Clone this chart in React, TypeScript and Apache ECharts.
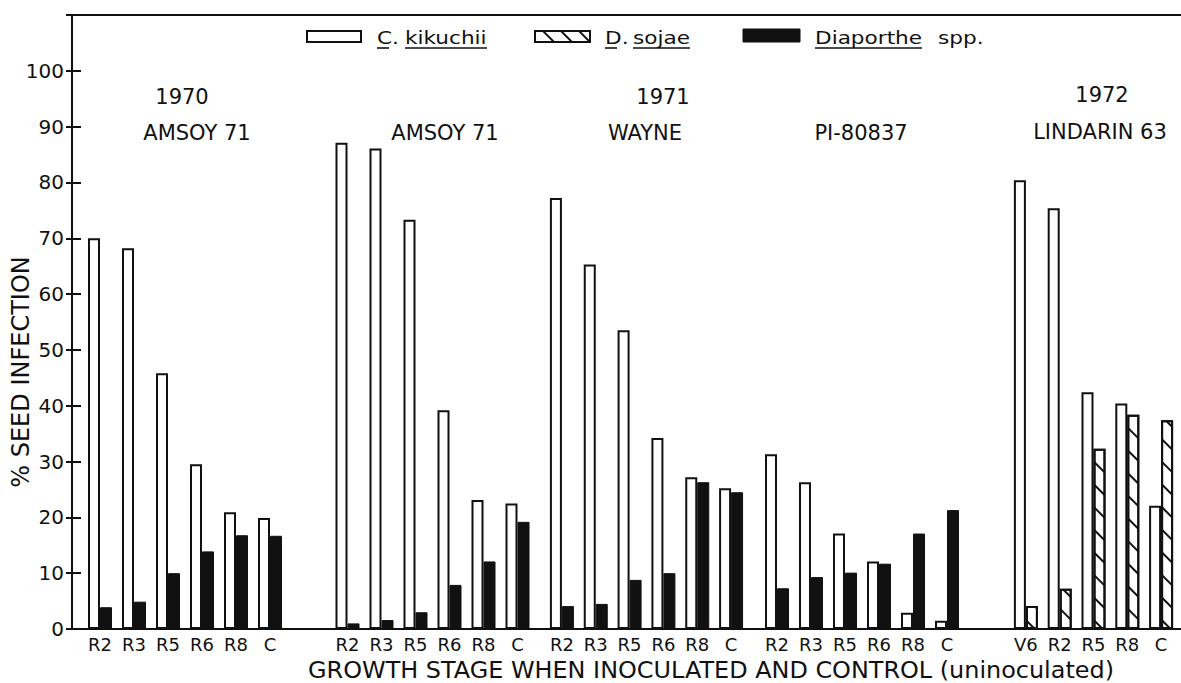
import React, { useEffect, useRef } from "react";
import * as echarts from "echarts";

// ---- data ----
const stagesR = ["R2", "R3", "R5", "R6", "R8", "C"];
const stagesLindarin = ["V6", "R2", "R5", "R8", "C"];

const kikuchiiAmsoy1970 = [70, 68.2, 45.8, 29.5, 20.9, 19.9];
const diaportheAmsoy1970 = [3.9, 4.9, 10, 13.9, 16.8, 16.7];

const kikuchiiAmsoy1971 = [87.1, 86.1, 73.3, 39.2, 23.1, 22.5];
const diaportheAmsoy1971 = [1.0, 1.6, 3.0, 7.9, 12.1, 19.2];

const kikuchiiWayne = [77.2, 65.3, 53.5, 34.2, 27.2, 25.2];
const diaportheWayne = [4.1, 4.5, 8.8, 10.0, 26.3, 24.5];

const kikuchiiPI80837 = [31.3, 26.3, 17.1, 12.1, 2.9, 1.5];
const diaporthePI80837 = [7.3, 9.3, 10.1, 11.7, 17.1, 21.3];

const kikuchiiLindarin = [80.4, 75.4, 42.4, 40.4, 22.1];
const sojaeLindarin = [4.1, 7.2, 32.3, 38.4, 37.4];

const yTicks = [0, 110, 10]; // min, max, interval

const INK = "#111";
const FONT = "DejaVu Sans";

export default function App() {
  const ref = useRef<HTMLDivElement>(null);

  useEffect(() => {
    if (!ref.current) return;
    const chart = echarts.init(ref.current, null, { renderer: "svg" });

    const top = 15;
    const height = 614;
    const groups = [
      { left: 83, width: 204, cats: stagesR, a: kikuchiiAmsoy1970, b: diaportheAmsoy1970, hatch: false },
      { left: 330.5, width: 204, cats: stagesR, a: kikuchiiAmsoy1971, b: diaportheAmsoy1971, hatch: false },
      { left: 545, width: 203, cats: stagesR, a: kikuchiiWayne, b: diaportheWayne, hatch: false },
      { left: 760, width: 204, cats: stagesR, a: kikuchiiPI80837, b: diaporthePI80837, hatch: false },
      { left: 1009, width: 169, cats: stagesLindarin, a: kikuchiiLindarin, b: sojaeLindarin, hatch: true },
    ];

    const grid: any[] = [{ left: 72, top, width: 1109, height }];
    const xAxis: any[] = [
      {
        gridIndex: 0, type: "value", min: 0, max: 1, position: "bottom",
        axisLine: { show: true, onZero: false, lineStyle: { color: INK, width: 2 } },
        axisTick: { show: false }, axisLabel: { show: false }, splitLine: { show: false },
      },
      {
        gridIndex: 0, type: "value", min: 0, max: 1, position: "top",
        axisLine: { show: true, onZero: false, lineStyle: { color: INK, width: 2 } },
        axisTick: { show: false }, axisLabel: { show: false }, splitLine: { show: false },
      },
    ];
    const yAxis: any[] = [
      {
        gridIndex: 0, type: "value", min: yTicks[0], max: yTicks[1], interval: yTicks[2], position: "left",
        axisLine: { show: true, lineStyle: { color: INK, width: 2 } },
        axisTick: { show: true, inside: true, length: 9, lineStyle: { color: INK, width: 2 } },
        axisLabel: {
          color: INK, fontSize: 20, fontFamily: FONT, margin: 8,
          formatter: (v: number) => (v > 100 ? "" : String(v)),
        },
        splitLine: { show: false },
      },
      {
        gridIndex: 0, type: "value", min: yTicks[0], max: yTicks[1], interval: yTicks[2], position: "right",
        axisLine: { show: false },
        axisTick: { show: true, inside: true, length: 6, lineStyle: { color: INK, width: 2 } },
        axisLabel: { show: false }, splitLine: { show: false },
      },
    ];
    const series: any[] = [];

    groups.forEach((g, i) => {
      grid.push({ left: g.left, top, width: g.width, height });
      xAxis.push({
        gridIndex: i + 1, type: "category", data: g.cats,
        axisLine: { show: false }, axisTick: { show: false },
        axisLabel: { color: INK, fontSize: 18, fontFamily: FONT, margin: 6, interval: 0, lineHeight: 18 },
      });
      yAxis.push({
        gridIndex: i + 1, type: "value", min: yTicks[0], max: yTicks[1], interval: yTicks[2], show: false,
        splitLine: { show: false },
      });
      series.push({
        name: "C. kikuchii", type: "bar", xAxisIndex: i + 2, yAxisIndex: i + 2,
        data: g.a, barWidth: 12, barGap: "0%",
        itemStyle: { color: "#fff", borderColor: INK, borderWidth: 2 },
      });
      series.push({
        name: g.hatch ? "D. sojae" : "Diaporthe spp.", type: "bar", xAxisIndex: i + 2, yAxisIndex: i + 2,
        data: g.b, barWidth: 12, barGap: "0%",
        itemStyle: g.hatch
          ? {
              color: "#fff", borderColor: INK, borderWidth: 2,
              decal: {
                symbol: "rect", symbolSize: 1, color: INK,
                dashArrayX: [1, 0], dashArrayY: [2, 14], rotation: Math.PI / 4,
              },
            }
          : { color: INK, borderColor: INK, borderWidth: 1 },
      });
    });

    const txt = (text: string, x: number, y: number, size: number, align = "center", extra: any = {}) => ({
      type: "text", x, y, ...extra,
      style: {
        text, fill: INK, fontSize: size, fontFamily: FONT,
        textAlign: align, align, textVerticalAlign: "middle", verticalAlign: "middle",
      },
    });
    const leg = (text: string, x: number) => txt(text, x, 38, 18, "left", { scaleX: 1.2 });
    const uline = (x1: number, x2: number, y: number) => ({
      type: "line", shape: { x1, y1: y, x2, y2: y }, style: { stroke: INK, lineWidth: 1.6 },
    });

    const graphic: any[] = [
      // legend
      { type: "rect", shape: { x: 307, y: 31, width: 54, height: 11 }, style: { fill: "#fff", stroke: INK, lineWidth: 2 } },
      leg("C.", 377),
      leg("kikuchii", 405),
      uline(377, 389, 48),
      uline(405, 487, 48),
      { type: "rect", shape: { x: 535, y: 31, width: 55, height: 11 }, style: { fill: "#fff", stroke: INK, lineWidth: 2 } },
      { type: "line", shape: { x1: 543, y1: 31, x2: 554, y2: 42 }, style: { stroke: INK, lineWidth: 1.8 } },
      { type: "line", shape: { x1: 561, y1: 31, x2: 572, y2: 42 }, style: { stroke: INK, lineWidth: 1.8 } },
      { type: "line", shape: { x1: 579, y1: 31, x2: 590, y2: 42 }, style: { stroke: INK, lineWidth: 1.8 } },
      leg("D.", 605),
      leg("sojae", 633),
      uline(605, 617, 48),
      uline(633, 690, 48),
      { type: "rect", shape: { x: 743, y: 29, width: 57, height: 13 }, style: { fill: INK, stroke: INK, lineWidth: 1 } },
      leg("Diaporthe", 815),
      leg("spp.", 938),
      uline(815, 922, 48),
      // group annotations
      txt("1970", 182, 97, 21),
      txt("AMSOY 71", 197, 133, 21),
      txt("AMSOY 71", 445, 133, 21),
      txt("1971", 663, 97, 21),
      txt("WAYNE", 645, 133, 21),
      txt("PI-80837", 861, 133, 21),
      txt("1972", 1102, 95, 21),
      txt("LINDARIN 63", 1100, 132, 21),
      // axis titles
      txt("% SEED INFECTION", 21, 372, 24, "center", { rotation: Math.PI / 2 }),
      txt("GROWTH STAGE WHEN INOCULATED AND CONTROL (uninoculated)", 711, 670, 23, "center", { scaleX: 1.04 }),
    ];

    chart.setOption({
      animation: false,
      backgroundColor: "#fff",
      textStyle: { fontFamily: FONT, color: INK },
      grid,
      xAxis,
      yAxis,
      series,
      graphic,
    });

    return () => chart.dispose();
  }, []);

  return (
    <div
      ref={ref}
      style={{ position: "fixed", left: 0, top: 0, width: 1181, height: 683, background: "#fff" }}
    />
  );
}
